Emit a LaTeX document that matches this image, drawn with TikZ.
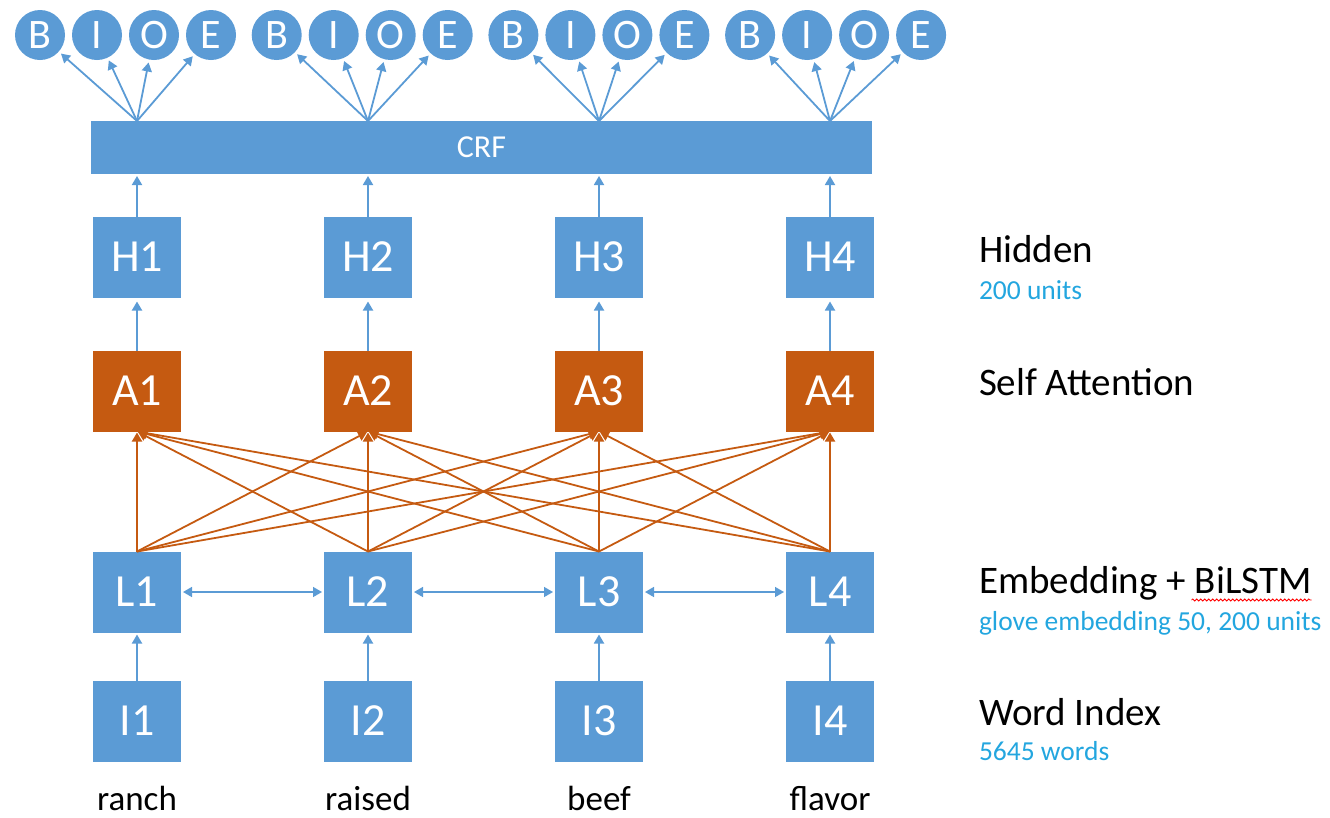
\documentclass[tikz,border=0pt]{standalone}
\usepackage{fontspec}
\setmainfont{Carlito}
\usepackage{xcolor}
\usepackage{tikz}
\usetikzlibrary{arrows.meta}
\usetikzlibrary{decorations.pathmorphing}
\usetikzlibrary{positioning}

\definecolor{boxblue}{HTML}{5B9BD5}
\definecolor{attorange}{HTML}{C55A11}
\definecolor{notecyan}{HTML}{23A6DF}

\begin{document}
\begin{tikzpicture}[x=1pt,y=-1pt]
    \tikzstyle{every node}=[inner sep=0pt,outer sep=0pt]
    \tikzstyle{box}=[fill=boxblue,text=white,minimum width=88pt,minimum height=81pt,font=\fontsize{46}{46}\selectfont]
    \tikzstyle{abox}=[box,fill=attorange]
    \tikzstyle{tag}=[circle,fill=boxblue,text=white,minimum size=50pt,font=\fontsize{42}{42}\selectfont]
    \tikzstyle{bline}=[draw=boxblue,line width=1.8pt,-{Triangle[length=9pt,width=10pt]}]
    \tikzstyle{oline}=[draw=attorange,line width=1.8pt,-{Triangle[length=9pt,width=10pt]}]
    \tikzstyle{layer}=[anchor=base west,font=\fontsize{39}{39}\selectfont]
    \tikzstyle{note}=[anchor=base west,text=notecyan,font=\fontsize{27.5}{27.5}\selectfont]
    \tikzstyle{word}=[anchor=base,font=\fontsize{35}{35}\selectfont]

    \useasboundingbox (0,0) rectangle (1330,817);

    % columns, bottom to top
    \foreach \i/\x/\w in {1/137/ranch,2/368/raised,3/599/beef,4/830/flavor}{%
      \node[box] (I\i) at (\x,721) {I\i};
      \node[box,above=48pt of I\i] (L\i) {L\i};
      \node[abox,above=120pt of L\i] (A\i) {A\i};
      \node[box,above=53pt of A\i] (H\i) {H\i};
      \node[word] (w\i) at (\x,810) {\w};
    }

    \node[fill=boxblue,text=white,minimum width=781pt,minimum height=53pt,
          font=\fontsize{32}{32}\selectfont] (crf) at (481.5,147.5) {CRF};

    % tag circles
    \foreach \g in {1,...,4}{%
      \foreach \k/\t in {0/B,1/I,2/O,3/E}{%
        \node[tag] (t\g\k) at ({40+236.7*(\g-1)+57*\k},35) {\t};
      }
    }

    \foreach \i in {1,...,4}{%
      \coordinate (c\i) at (H\i |- crf.north);
      \draw[bline,shorten >=2pt] (I\i) -- (L\i);
      \draw[bline,shorten >=4pt] (A\i) -- (H\i);
      \draw[bline,shorten >=2pt] (H\i) -- (H\i |- crf.south);
      \foreach \k in {0,...,3}{%
        \draw[bline,shorten >=3pt] (c\i) -- (t\i\k);
      }
      \foreach \j in {1,...,4}{%
        \draw[oline,shorten >=1pt] (L\j.north) -- (A\i.south);
      }
    }

    \foreach \j/\n in {1/2,2/3,3/4}{%
      \draw[bline,line width=1.5pt,{Triangle[length=9pt,width=10pt]}-{Triangle[length=9pt,width=10pt]},shorten <=2pt,shorten >=2pt] (L\j) -- (L\n);
    }

    % layer labels
    \node[layer] (hid) at (979,262) {Hidden};
    \node[note] (hidn) at ([yshift=-37pt]hid.base west) {200 units};
    \node[layer] (att) at (979,395) {Self Attention};
    \node[layer] (emb) at (979,593) {Embedding + BiLSTM};
    \node[note] (embn) at ([yshift=-37pt]emb.base west) {glove embedding 50, 200 units};
    \node[layer] (idx) at (979,725) {Word Index};
    \node[note] (idxn) at ([yshift=-35pt]idx.base west) {5645 words};
    \draw[red,line width=0.8pt,decorate,decoration={snake,amplitude=1pt,segment length=4pt}]
        ([xshift=-120pt,yshift=-7pt]emb.base east) -- ([yshift=-7pt]emb.base east);
\end{tikzpicture}
\end{document}
